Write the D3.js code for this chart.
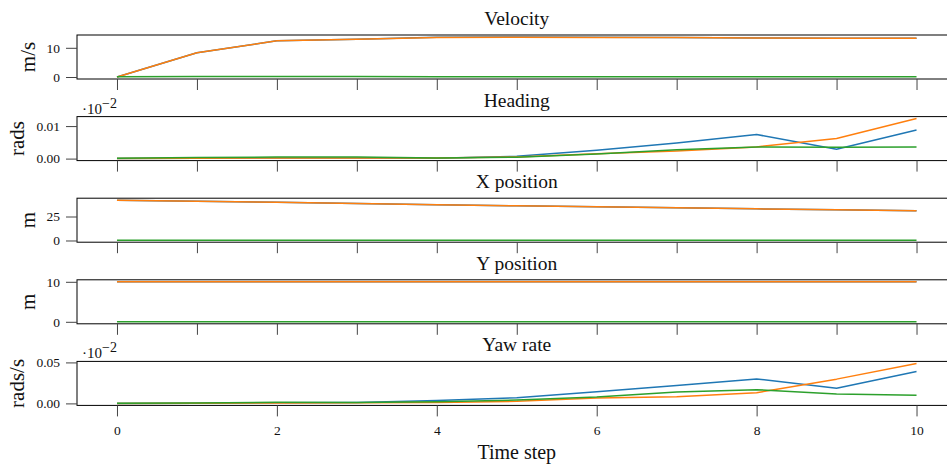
<!DOCTYPE html>
<html>
<head>
<meta charset="utf-8">
<script src="https://cdn.jsdelivr.net/npm/d3@7"></script>
<style>
  body { margin: 0; background: #fff; }
  text { font-family: "Liberation Serif", "DejaVu Serif", serif; fill: #111; }
</style>
</head>
<body>
<svg id="chart" width="947" height="466"></svg>
<script>
var svgWidth = 947;   // SVG 넓이
var svgHeight = 466;  // SVG 높이

// 데이터셋 (시간 스텝 0..10)
var timeSteps = [0, 1, 2, 3, 4, 5, 6, 7, 8, 9, 10];
var seriesColors = ["#1f77b4", "#ff7f0e", "#2ca02c"];

var velocityBlue   = [0, 8.3, 12.4, 12.9, 13.6, 13.7, 13.6, 13.5, 13.4, 13.3, 13.3];
var velocityOrange = [0, 8.3, 12.4, 12.9, 13.5, 13.6, 13.5, 13.5, 13.4, 13.3, 13.3];
var velocityGreen  = [0.1, 0.2, 0.2, 0.2, 0.1, 0.1, 0.1, 0.1, 0.1, 0.1, 0.1];

var headingBlue   = [0, 0.0001, 0.0002, 0.0002, 0.0001, 0.0007, 0.0026, 0.0048, 0.0074, 0.0029, 0.0088];
var headingOrange = [0, 0.0001, 0.0002, 0.0002, 0.0002, 0.0005, 0.0015, 0.0023, 0.0036, 0.0062, 0.0123];
var headingGreen  = [0.0001, 0.0003, 0.0005, 0.0005, 0.0002, 0.0004, 0.0014, 0.0027, 0.0036, 0.0035, 0.0036];

var xPosBlue   = [42.0, 41.0, 39.9, 38.6, 37.3, 36.2, 35.1, 34.1, 33.0, 32.0, 30.9];
var xPosOrange = [41.9, 40.9, 39.8, 38.5, 37.2, 36.1, 35.1, 34.0, 33.0, 32.0, 30.9];
var xPosGreen  = [0.3, 0.3, 0.3, 0.3, 0.3, 0.3, 0.3, 0.3, 0.3, 0.3, 0.3];

var yPosBlue   = [10.0, 10.0, 10.0, 10.0, 10.0, 10.0, 10.0, 10.0, 10.0, 10.0, 10.0];
var yPosOrange = [10.0, 10.0, 10.0, 10.0, 10.0, 10.0, 10.0, 10.0, 10.0, 10.0, 10.0];
var yPosGreen  = [0, 0, 0, 0, 0, 0, 0, 0, 0, 0, 0];

var yawBlue   = [0, 0.0003, 0.0008, 0.0012, 0.0035, 0.0069, 0.0143, 0.0217, 0.0299, 0.0185, 0.0389];
var yawOrange = [0, 0.0002, 0.0005, 0.0008, 0.0012, 0.0025, 0.0065, 0.0081, 0.0130, 0.0296, 0.0488];
var yawGreen  = [0.0002, 0.0005, 0.0015, 0.0010, 0.0020, 0.0041, 0.0078, 0.0139, 0.0167, 0.0115, 0.0098];

// 패널별 제목, 라벨, 눈금
var panelTitles = ["Velocity", "Heading", "X position", "Y position", "Yaw rate"];
var panelUnits  = ["m/s", "rads", "m", "m", "rads/s"];
var panelTicks  = [[0, 10], [0, 0.01], [0, 25], [0, 10], [0, 0.05]];
var panelFormats = ["d", ".2f", "d", "d", ".2f"];
var panelOffset = [false, true, false, false, true];   // ·10^-2 표시 여부
var panelSeries = [
  [velocityBlue, velocityOrange, velocityGreen],
  [headingBlue, headingOrange, headingGreen],
  [xPosBlue, xPosOrange, xPosGreen],
  [yPosBlue, yPosOrange, yPosGreen],
  [yawBlue, yawOrange, yawGreen]
];
var bottomTicks = [0, 2, 4, 6, 8, 10];

var svg = d3.select("#chart");
var axLeft = 77, axRight = 956.5;   // 오른쪽 테두리는 그림 밖
var panelTop0 = 35, panelHeight = 44, panelStep = 81.6;

var xScale = d3.scaleLinear().domain([-0.5, 10.5]).range([axLeft, axRight]);

panelSeries.forEach(function(series, p) {
  var top = panelTop0 + p * panelStep;
  var bottom = top + panelHeight;
  var g = svg.append("g");

  // y 범위: matplotlib 처럼 5% 여백
  var lo = d3.min(series, function(s) { return d3.min(s); });
  var hi = d3.max(series, function(s) { return d3.max(s); });
  var pad = (hi - lo) * 0.05;
  var yScale = d3.scaleLinear().domain([lo - pad, hi + pad]).range([bottom, top]);

  // 선 그리기
  var line = d3.line()
    .x(function(d, i) { return xScale(timeSteps[i]); })
    .y(function(d) { return yScale(d); });
  series.forEach(function(s, k) {
    g.append("path")
      .attr("d", line(s))
      .attr("fill", "none")
      .attr("stroke", seriesColors[k])
      .attr("stroke-width", 1.5)
      .attr("stroke-linejoin", "round");
  });

  // 테두리
  g.append("rect")
    .attr("x", axLeft).attr("y", top)
    .attr("width", axRight - axLeft).attr("height", panelHeight)
    .attr("fill", "none").attr("stroke", "#000").attr("stroke-width", 1);

  // y축
  var yAxis = g.append("g")
    .attr("transform", "translate(" + axLeft + ",0)")
    .call(d3.axisLeft(yScale).tickValues(panelTicks[p]).tickFormat(d3.format(panelFormats[p]))
      .tickSize(11).tickPadding(6));
  yAxis.select(".domain").remove();
  yAxis.selectAll("line").attr("stroke", "#444");
  yAxis.selectAll("text").style("font-size", "13.5px").attr("fill", "#111");

  // x축
  var isLast = p === panelSeries.length - 1;
  var xAxis = g.append("g")
    .attr("transform", "translate(0," + bottom + ")")
    .call(d3.axisBottom(xScale).tickValues(isLast ? bottomTicks : timeSteps)
      .tickFormat(isLast ? d3.format("d") : "").tickSize(11).tickPadding(9));
  xAxis.select(".domain").remove();
  xAxis.selectAll("line").attr("stroke", "#444");
  xAxis.selectAll("text").style("font-size", "13.5px").attr("fill", "#111");

  // 제목
  g.append("text")
    .attr("x", (axLeft + axRight) / 2)
    .attr("y", top - 10)
    .attr("text-anchor", "middle")
    .style("font-size", "19.5px")
    .text(panelTitles[p]);

  // y 라벨 (눈금 라벨 왼쪽)
  var box = yAxis.node().getBBox();
  g.append("text")
    .attr("transform", "translate(" + (axLeft + box.x - 12) + "," + (top + panelHeight / 2) + ") rotate(-90)")
    .attr("text-anchor", "middle")
    .style("font-size", "21px")
    .text(panelUnits[p]);

  // 오프셋 텍스트
  if (panelOffset[p]) {
    var off = g.append("text")
      .attr("x", axLeft + 5)
      .attr("y", top - 3)
      .style("font-size", "15px");
    off.append("tspan").text("·10");
    off.append("tspan").attr("dy", -6).style("font-size", "14px").text("−2");
  }
});

// x 라벨
svg.append("text")
  .attr("x", (axLeft + axRight) / 2)
  .attr("y", 459)
  .attr("text-anchor", "middle")
  .style("font-size", "20px")
  .text("Time step");
</script>
</body>
</html>
